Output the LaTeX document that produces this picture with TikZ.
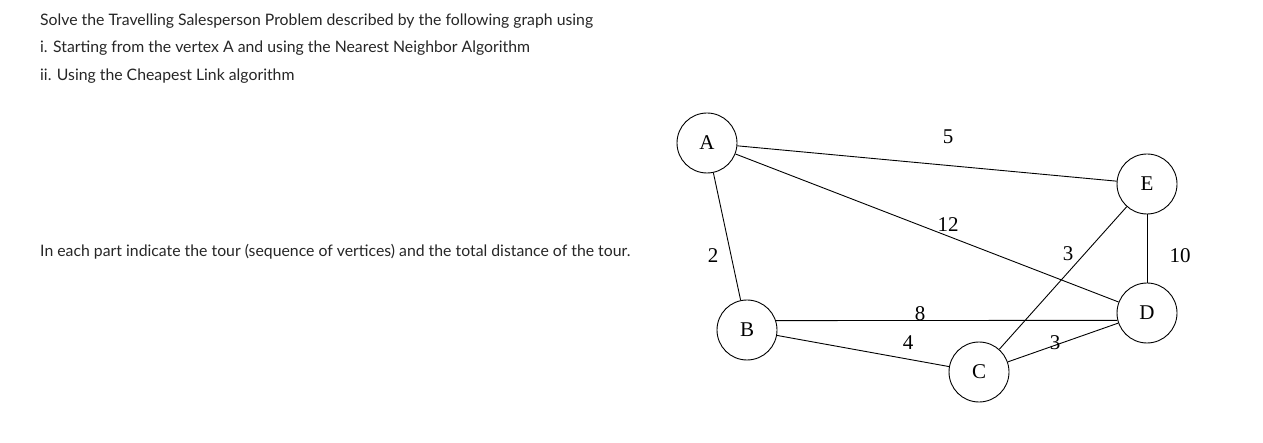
\documentclass[tikz,border=0pt]{standalone}
\usepackage{fontspec}
\newfontfamily\latofont{Lato}
\newfontfamily\graphfont{Liberation Serif}
\usepackage{tikz}
\usetikzlibrary{positioning}

\begin{document}
\begin{tikzpicture}[x=1pt,y=-1pt,
        %Styles
        Vertex/.style={
            draw, circle, line width=0.9pt,
            minimum size=60pt, inner sep=0pt,
            font=\graphfont\fontsize{21}{21}\selectfont
        },
        Edge/.style={line width=0.9pt},
        Weight/.style={font=\graphfont\fontsize{21}{21}\selectfont, inner sep=1pt},
        Task/.style={anchor=west, inner sep=0pt,
            font=\latofont\fontsize{15.8}{17}\selectfont, text=black!85}
    ]
\useasboundingbox (0,0) rectangle (1263,443);

%task text
\node[Task] (q1) at (40,21) {Solve the Travelling Salesperson Problem described by the following graph using};
\node[Task] (q2) at (40,48) {i. Starting from the vertex A and using the Nearest Neighbor Algorithm};
\node[Task] (q3) at (40,76) {ii. Using the Cheapest Link algorithm};
\node[Task] (q4) at (40,252) {In each part indicate the tour (sequence of vertices) and the total distance of the tour.};

%vertices
\node[Vertex] (A) at (707,143) {A};
\node[Vertex] (E) at (1147,184) {E};
\node[Vertex] (D) at (1147,313) {D};
\node[Vertex] (B) at (747,330) {B};
\node[Vertex] (C) at (979,372) {C};

%edges
\draw[Edge] (A) -- (E);
\draw[Edge] (A) -- (D);
\draw[Edge] (A) -- (B);
\draw[Edge] (E) -- (D);
\draw[Edge] (B.18) -- (D.194);
\draw[Edge] (B) -- (C);
\draw[Edge] (C) -- (E);
\draw[Edge] (C) -- (D);

%weights
\node[Weight] (wAE) at (948,137) {5};
\node[Weight] (wAD) at (948,225) {12};
\node[Weight] (wAB) at (713,256) {2};
\node[Weight] (wED) at (1180,256) {10};
\node[Weight] (wBD) at (920,314) {8};
\node[Weight] (wBC) at (908,343) {4};
\node[Weight] (wCE) at (1068,254) {3};
\node[Weight] (wCD) at (1055,343) {3};

\end{tikzpicture}
\end{document}
